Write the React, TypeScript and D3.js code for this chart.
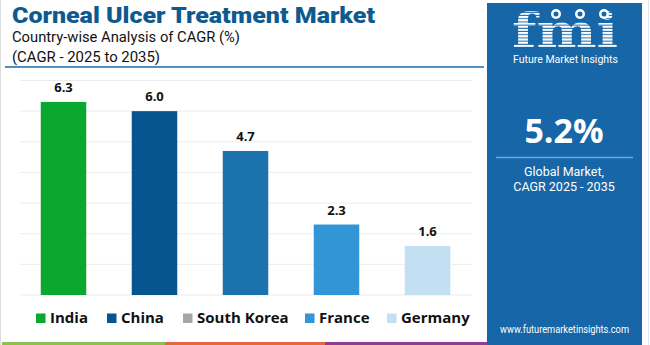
import React from "react";
import * as d3 from "d3";

const countries = ["India", "China", "South Korea", "France", "Germany"];
const cagr = [6.3, 6.0, 4.7, 2.3, 1.6];
const barColors = ["#0aa82e", "#065590", "#1b72ad", "#3195d6", "#c3e0f3"];
const legendColors = ["#0aa82e", "#065590", "#a6a6a6", "#3195d6", "#c3e0f3"];
const gridTicks = [0, 1, 2, 3, 4, 5, 6, 7];
const legendX = [36, 107, 183, 305, 387];

const FONT = "'Open Sans', 'Noto Sans', sans-serif";
const ROBOTO = "Roboto, 'Open Sans', sans-serif";
const PANEL = "#1666a8";

export default function App() {
  const x = d3.scaleBand<string>().domain(countries).range([18, 473]).paddingInner(0.5).paddingOuter(0.25);
  const y = d3.scaleLinear().domain([0, 7]).range([295, 80.5]);

  return (
    <svg
      width={650}
      height={345}
      style={{ position: "fixed", top: 0, left: 0, background: "#fff" }}
      fontFamily={FONT}
    >
      <defs>
        <pattern id="stripes" width="4" height="3.2" patternUnits="userSpaceOnUse">
          <rect width="4" height="2.2" fill="#fff" />
        </pattern>
      </defs>
      <rect x={0} y={0} width={650} height={345} fill="#fff" />
      <line x1={0.5} y1={0} x2={0.5} y2={345} stroke="#dcdcdc" />

      {/* Title */}
      <text x={12} y={23} fontFamily={ROBOTO} fontSize={22.5} fontWeight={900} fill="#0d5a90" textLength={363} lengthAdjust="spacingAndGlyphs">
        Corneal Ulcer Treatment Market
      </text>
      <text x={12} y={42} fontFamily={ROBOTO} fontSize={14.5} fill="#111" textLength={228} lengthAdjust="spacingAndGlyphs">
        Country-wise Analysis of CAGR (%)
      </text>
      <text x={12} y={62} fontFamily={ROBOTO} fontSize={14.5} fill="#111" textLength={148} lengthAdjust="spacingAndGlyphs">
        (CAGR - 2025 to 2035)
      </text>
      <line x1={5} y1={67} x2={484} y2={67} stroke="#1b6aa8" strokeWidth={1.5} />

      {/* Grid */}
      {gridTicks.map((t) => (
        <line key={t} x1={20} x2={472} y1={y(t)} y2={y(t)} stroke="#ececec" strokeWidth={1} />
      ))}

      {/* Bars */}
      {countries.map((c, i) => (
        <g key={c}>
          <rect x={x(c)} y={y(cagr[i])} width={x.bandwidth()} height={y(0) - y(cagr[i])} fill={barColors[i]} />
          <text
            x={(x(c) as number) + x.bandwidth() / 2}
            y={y(cagr[i]) - 10}
            textAnchor="middle"
            fontSize={13}
            fontWeight={700}
            fill="#111"
          >
            {cagr[i].toFixed(1)}
          </text>
        </g>
      ))}

      {/* Legend */}
      {countries.map((c, i) => (
        <g key={c}>
          <rect x={legendX[i]} y={313.5} width={9.5} height={9.5} fill={legendColors[i]} />
          <text x={legendX[i] + 14} y={323} fontSize={15} fontWeight={700} fill="#111">
            {c}
          </text>
        </g>
      ))}

      {/* Bottom stripes */}
      <rect x={2} y={342} width={163} height={3} fill="#8cc152" />
      <rect x={165} y={342} width={160} height={3} fill="#e9673f" />
      <rect x={325} y={342} width={162} height={3} fill="#8e3b9b" />

      {/* Right panel */}
      <rect x={487} y={3} width={155} height={342} fill={PANEL} />
      <line x1={648.5} y1={0} x2={648.5} y2={345} stroke="#e4e4e4" />

      {/* Logo */}
      <text x={512} y={47} fontSize={46} fontWeight={700} fontFamily="'DejaVu Serif', serif" fill="url(#stripes)" textLength={106} lengthAdjust="spacingAndGlyphs">
        fmi
      </text>
      <circle cx={556} cy={14} r={5} fill="#fff" />
      <circle cx={580} cy={14} r={5} fill="#fff" />
      <circle cx={604} cy={14} r={5} fill="#fff" />
      <circle cx={556} cy={14} r={2.5} fill={PANEL} />
      <circle cx={580} cy={14} r={2.5} fill={PANEL} />
      <circle cx={604} cy={14} r={2.5} fill={PANEL} />
      <text x={513} y={62.5} fontFamily={ROBOTO} fontSize={10.5} fill="#fff" textLength={105} lengthAdjust="spacingAndGlyphs">
        Future Market Insights
      </text>

      <text x={564} y={143} textAnchor="middle" fontSize={34} fontWeight={700} fill="#fff">
        5.2%
      </text>
      <line x1={496} x2={633} y1={157.5} y2={157.5} stroke="#6aa9dd" strokeWidth={1.5} />
      <text x={564} y={176} textAnchor="middle" fontFamily={ROBOTO} fontSize={12.5} fill="#fff">
        Global Market,
      </text>
      <text x={564} y={191} textAnchor="middle" fontFamily={ROBOTO} fontSize={12.5} fill="#fff">
        CAGR 2025 - 2035
      </text>
      <text x={564.5} y={333} textAnchor="middle" fontFamily={ROBOTO} fontSize={10.5} fill="#fff" textLength={129} lengthAdjust="spacingAndGlyphs">
        www.futuremarketinsights.com
      </text>
    </svg>
  );
}
